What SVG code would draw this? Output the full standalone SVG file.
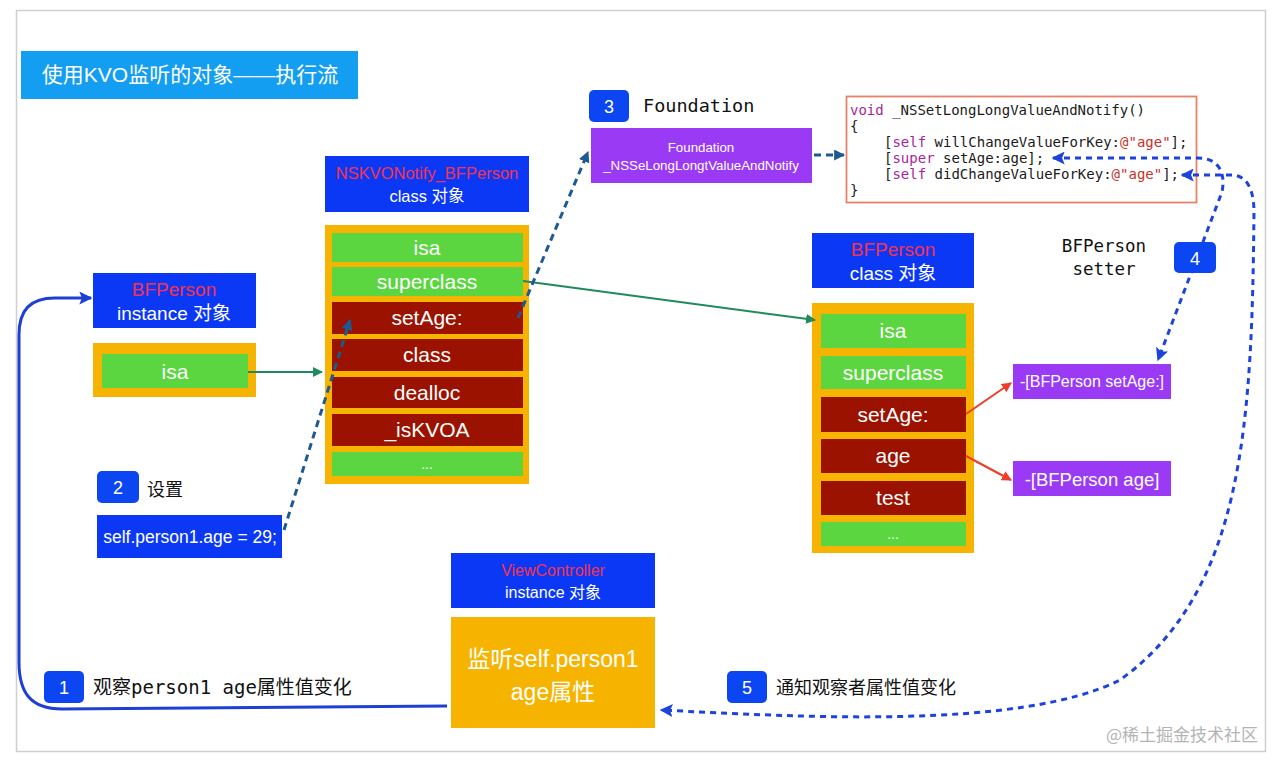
<svg xmlns="http://www.w3.org/2000/svg" width="1280" height="765" viewBox="0 0 1280 765">
<style>
.sans{font-family:"Liberation Sans","Noto Sans CJK SC",sans-serif}
.mono{font-family:"DejaVu Sans Mono","Noto Sans CJK SC",monospace}
.w{fill:#ffffff}
.red{fill:#f5334f}
.hdr{fill:#0a38f5}
.org{fill:#f6b400}
.grn{fill:#5cd640}
.drd{fill:#9b1200}
.pur{fill:#9a3af5}
.badge{fill:#0b46f2}
.code{font-family:"DejaVu Sans Mono",monospace;font-size:14px;fill:#1a1a1a}
.kw{fill:#aa1f9a}
.str{fill:#c8302a}
.lbl{font-family:"Noto Sans CJK SC","Liberation Sans",sans-serif;font-size:18px;fill:#111}
.row{font-size:21px;text-anchor:middle}
</style>
<defs>
<marker id="aTeal" viewBox="0 0 10 10" refX="9" refY="5" markerWidth="11" markerHeight="11" markerUnits="userSpaceOnUse" orient="auto"><path d="M0,0 L10,5 L0,10 z" fill="#1d5a91"/></marker>
<marker id="aGreen" viewBox="0 0 10 10" refX="9" refY="5" markerWidth="10" markerHeight="10" markerUnits="userSpaceOnUse" orient="auto"><path d="M0,0 L10,5 L0,10 z" fill="#1f8a5c"/></marker>
<marker id="aRed" viewBox="0 0 10 10" refX="9" refY="5" markerWidth="10" markerHeight="10" markerUnits="userSpaceOnUse" orient="auto"><path d="M0,0 L10,5 L0,10 z" fill="#ee3d28"/></marker>
<marker id="aBlue" viewBox="0 0 10 10" refX="9" refY="5" markerWidth="13" markerHeight="13" markerUnits="userSpaceOnUse" orient="auto-start-reverse"><path d="M0,0 L10,5 L0,10 L2,5 z" fill="#1d43dd"/></marker>
<marker id="aSolid" viewBox="0 0 10 10" refX="9" refY="5" markerWidth="13" markerHeight="13" markerUnits="userSpaceOnUse" orient="auto"><path d="M0,0 L10,5 L0,10 L2,5 z" fill="#1d3fd6"/></marker>
</defs>
<rect x="0" y="0" width="1280" height="765" fill="#ffffff"/>
<rect x="16.5" y="10.5" width="1249" height="741" fill="none" stroke="#cfcfcf" stroke-width="1.5"/>

<g id="title">
<rect x="21" y="51" width="337" height="48" fill="#149ef2"/>
<text class="sans w" x="190" y="82" font-size="21" text-anchor="middle">使用KVO监听的对象——执行流</text>
</g>

<g id="step3">
<rect x="589" y="90" width="40" height="32" rx="5" class="badge"/>
<text class="sans w" x="609" y="113" font-size="18" text-anchor="middle">3</text>
<text class="mono" x="643" y="112" font-size="18.5" fill="#111">Foundation</text>
</g>

<g id="foundation">
<rect x="591" y="128" width="221" height="55" class="pur"/>
<text class="sans w" x="701" y="152" font-size="13.3" text-anchor="middle">Foundation</text>
<text class="sans w" x="701" y="170" font-size="13.3" text-anchor="middle">_NSSeLongLongtValueAndNotify</text>
</g>

<g id="code">
<rect x="846.5" y="96.5" width="350" height="106" fill="#ffffff" stroke="#e8806a" stroke-width="1.8"/>
<text class="code" x="850" y="115"><tspan class="kw">void</tspan> _NSSetLongLongValueAndNotify()</text>
<text class="code" x="850" y="131">{</text>
<text class="code" x="884" y="147">[<tspan class="kw">self</tspan> willChangeValueForKey:<tspan class="str">@"age"</tspan>];</text>
<text class="code" x="884" y="163">[<tspan class="kw">super</tspan> setAge:age];</text>
<text class="code" x="884" y="179">[<tspan class="kw">self</tspan> didChangeValueForKey:<tspan class="str">@"age"</tspan>];</text>
<text class="code" x="850" y="195">}</text>
</g>

<g id="kvoHeader">
<rect x="325" y="156" width="204" height="56" class="hdr"/>
<text class="sans red" x="427" y="179" font-size="16.5" text-anchor="middle">NSKVONotify_BFPerson</text>
<text class="sans w" x="427" y="202" font-size="16.5" text-anchor="middle">class 对象</text>
</g>

<g id="kvoClass">
<rect x="325" y="225" width="204" height="259" class="org"/>
<rect x="332" y="233" width="191" height="29" class="grn"/>
<rect x="332" y="267" width="191" height="29" class="grn"/>
<rect x="332" y="302" width="191" height="32" class="drd"/>
<rect x="332" y="339" width="191" height="32" class="drd"/>
<rect x="332" y="377" width="191" height="31" class="drd"/>
<rect x="332" y="414" width="191" height="32" class="drd"/>
<rect x="332" y="452" width="191" height="24" class="grn"/>
<text class="sans w row" x="427" y="255">isa</text>
<text class="sans w row" x="427" y="289">superclass</text>
<text class="sans w row" x="427" y="325">setAge:</text>
<text class="sans w row" x="427" y="362">class</text>
<text class="sans w row" x="427" y="400">dealloc</text>
<text class="sans w row" x="427" y="437">_isKVOA</text>
<text class="sans w" x="427" y="469" font-size="14" text-anchor="middle">...</text>
</g>

<g id="instHeader">
<rect x="93" y="273" width="163" height="55" class="hdr"/>
<text class="sans red" x="174" y="296" font-size="19" text-anchor="middle">BFPerson</text>
<text class="sans w" x="174" y="320" font-size="19" text-anchor="middle">instance 对象</text>
</g>

<g id="instIsa">
<rect x="93" y="343" width="163" height="54" class="org"/>
<rect x="102" y="354" width="146" height="34" class="grn"/>
<text class="sans w row" x="175" y="379">isa</text>
</g>

<g id="step2">
<rect x="97" y="471" width="42" height="32" rx="5" class="badge"/>
<text class="sans w" x="118" y="494" font-size="18" text-anchor="middle">2</text>
<text class="lbl" x="147" y="496">设置</text>
</g>

<g id="setCode">
<rect x="97" y="515" width="185" height="43" class="hdr"/>
<text class="sans w" x="190" y="543" font-size="17.5" text-anchor="middle">self.person1.age = 29;</text>
</g>

<g id="bfHeader">
<rect x="812" y="233" width="162" height="55" class="hdr"/>
<text class="sans red" x="893" y="256" font-size="19" text-anchor="middle">BFPerson</text>
<text class="sans w" x="893" y="280" font-size="19" text-anchor="middle">class 对象</text>
</g>

<g id="bfClass">
<rect x="812" y="303" width="162" height="250" class="org"/>
<rect x="821" y="314" width="145" height="34" class="grn"/>
<rect x="821" y="356" width="145" height="33" class="grn"/>
<rect x="821" y="397" width="145" height="35" class="drd"/>
<rect x="821" y="439" width="145" height="34" class="drd"/>
<rect x="821" y="481" width="145" height="34" class="drd"/>
<rect x="821" y="522" width="145" height="24" class="grn"/>
<text class="sans w row" x="893" y="338">isa</text>
<text class="sans w row" x="893" y="380">superclass</text>
<text class="sans w row" x="893" y="422">setAge:</text>
<text class="sans w row" x="893" y="463">age</text>
<text class="sans w row" x="893" y="505">test</text>
<text class="sans w" x="893" y="539" font-size="14" text-anchor="middle">...</text>
</g>

<g id="impSetAge">
<rect x="1013" y="364" width="158" height="35" class="pur"/>
<text class="sans w" x="1092" y="387" font-size="16" text-anchor="middle">-[BFPerson setAge:]</text>
</g>

<g id="impAge">
<rect x="1013" y="461" width="158" height="35" class="pur"/>
<text class="sans w" x="1092" y="486" font-size="18.5" text-anchor="middle">-[BFPerson age]</text>
</g>

<g id="setterLabel">
<text class="mono" x="1104" y="252" font-size="17.5" fill="#111" text-anchor="middle">BFPerson</text>
<text class="mono" x="1104" y="275" font-size="17.5" fill="#111" text-anchor="middle">setter</text>
</g>

<g id="vcHeader">
<rect x="451" y="553" width="204" height="55" class="hdr"/>
<text class="sans red" x="553" y="576" font-size="16" text-anchor="middle">ViewController</text>
<text class="sans w" x="553" y="598" font-size="16" text-anchor="middle">instance 对象</text>
</g>

<g id="vcObserve">
<rect x="451" y="617" width="204" height="111" class="org"/>
<text class="sans w" x="553" y="667" font-size="23" text-anchor="middle">监听self.person1</text>
<text class="sans w" x="553" y="700" font-size="23" text-anchor="middle">age属性</text>
</g>

<g id="step1">
<rect x="44" y="671" width="40" height="32" rx="5" class="badge"/>
<text class="sans w" x="64" y="694" font-size="18" text-anchor="middle">1</text>
<text class="mono" x="93" y="694" font-size="19" fill="#111">观察person1 age属性值变化</text>
</g>

<g id="step5">
<rect x="727" y="671" width="40" height="32" rx="5" class="badge"/>
<text class="sans w" x="747" y="694" font-size="18" text-anchor="middle">5</text>
<text class="lbl" x="776" y="694">通知观察者属性值变化</text>
</g>

<g id="connectors" fill="none">
<path d="M248,372 L322,372" stroke="#1f8a5c" stroke-width="2" marker-end="url(#aGreen)"/>
<path d="M523,281 L815,320" stroke="#1f8a5c" stroke-width="2" marker-end="url(#aGreen)"/>
<path d="M966,414 L1011,383" stroke="#ee3d28" stroke-width="2" marker-end="url(#aRed)"/>
<path d="M966,456 L1011,480" stroke="#ee3d28" stroke-width="2" marker-end="url(#aRed)"/>
<path d="M284,530 L350,320" stroke="#1d5a91" stroke-width="3" stroke-dasharray="7,5" marker-end="url(#aTeal)"/>
<path d="M518,318 L588,152" stroke="#1d5a91" stroke-width="3" stroke-dasharray="7,5" marker-end="url(#aTeal)"/>
<path d="M814,155 L844,155" stroke="#1d5a91" stroke-width="3" stroke-dasharray="7,5" marker-end="url(#aTeal)"/>
<path d="M1053,158 L1198,158 C1218,158 1226,172 1222,192 L1158,360" stroke="#1d43dd" stroke-width="3" stroke-dasharray="6,5" marker-start="url(#aBlue)" marker-end="url(#aBlue)"/>
<path d="M1182,175 L1232,175 Q1253,176 1254,210 C1252,420 1245,590 1120,680 C1020,730 800,717 661,710" stroke="#1d43dd" stroke-width="3" stroke-dasharray="6,5" marker-start="url(#aBlue)" marker-end="url(#aBlue)"/>
<path d="M447,706 L62,709 C30,709 19,692 19,662 L19,335 C19,310 30,298 55,298 L91,298" stroke="#1d3fd6" stroke-width="3" marker-end="url(#aSolid)"/>
</g>

<g id="step4">
<rect x="1174" y="242" width="42" height="31" rx="5" class="badge"/>
<text class="sans w" x="1195" y="265" font-size="18" text-anchor="middle">4</text>
</g>

<g id="watermark">
<text x="1258" y="741" font-family="Noto Sans CJK SC,sans-serif" font-size="17" fill="#b4b4b4" text-anchor="end">@稀土掘金技术社区</text>
</g>
</svg>
